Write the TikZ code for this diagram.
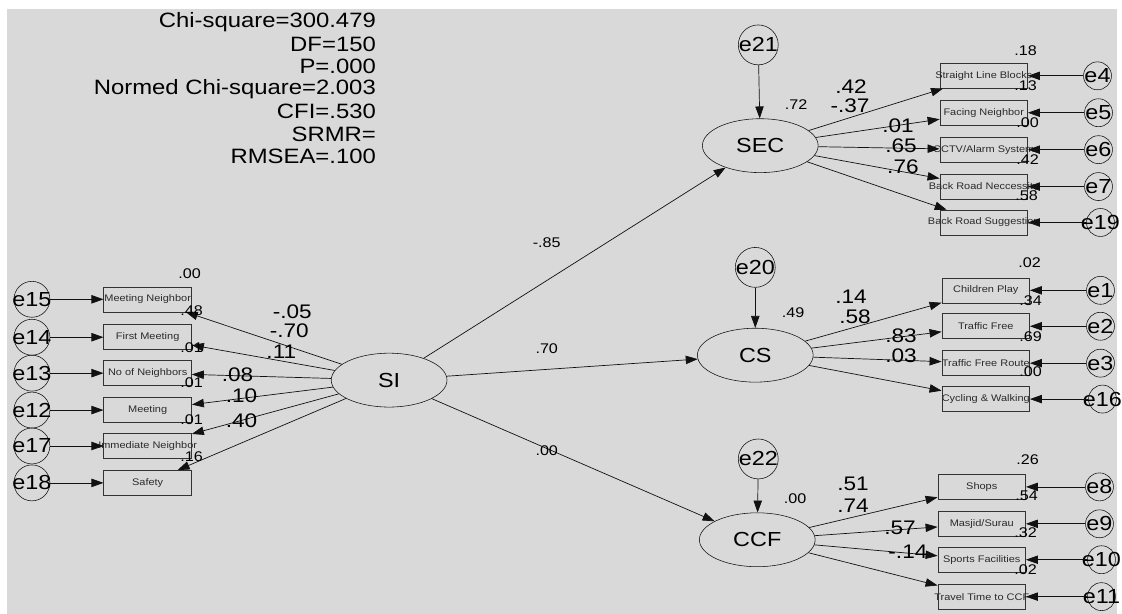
\documentclass[tikz,border=0pt]{standalone}
\usepackage{fontspec}
\setmainfont{Liberation Sans}
\usetikzlibrary{arrows.meta,shapes.geometric}
\definecolor{Canvas}{HTML}{D9D9D9}
\definecolor{Ink}{HTML}{111111}
\definecolor{BoxLine}{HTML}{333333}
\definecolor{BoxText}{HTML}{2B2B2B}
\newcommand{\wtxt}[1]{\scalebox{1.15}[1]{#1}}

\begin{document}
\begin{tikzpicture}[x=0.025cm,y=-0.025cm,
    >={Triangle[length=3mm,width=2.1mm]},
    latent/.style={ellipse,draw=Ink,minimum width=2.9cm,minimum height=1.35cm,
                   inner sep=0pt,font=\fontsize{14.5}{15}\selectfont},
    item/.style={rectangle,draw=BoxLine,minimum width=2.2cm,minimum height=0.625cm,
                 inner sep=0pt,text=BoxText,font=\fontsize{6.8}{7}\selectfont},
    err/.style={circle,draw=Ink,inner sep=0pt,minimum size=#1},
    err/.default=0.7cm,
    etxt/.style={font=\fontsize{14.5}{15}\selectfont,inner sep=0pt},
    wt/.style={font=\fontsize{14}{14}\selectfont,inner sep=0pt},
    rsq/.style={font=\fontsize{10}{11}\selectfont,inner sep=0pt},
    fit/.style={anchor=east,font=\fontsize{14.8}{15}\selectfont,inner sep=0pt},
    path/.style={draw=Ink,line width=0.5pt,->}]
  \fill[white] (0,0) rectangle (1122,615);
  \fill[Canvas] (7,9) rectangle (1120,615);

  \foreach \y/\t in {22/Chi-square=300.479,44.5/DF=150,67/P=.000,
      89.5/Normed Chi-square=2.003,112/CFI=.530,134.5/SRMR=,157/RMSEA=.100}{
    \node[fit] at (377,\y) {\wtxt{\t}};
  }

  \node[latent] (si) at (390,381) {\wtxt{SI}};
  \node[latent] (sec) at (762,146) {\wtxt{SEC}};
  \node[latent] (cs) at (757,356) {\wtxt{CS}};
  \node[latent] (ccf) at (759,541) {\wtxt{CCF}};

  \node[err=1cm,label={[etxt]center:\wtxt{e21}}] (e21) at (760,45) {};
  \node[err=1cm,label={[etxt]center:\wtxt{e20}}] (e20) at (757,268) {};
  \node[err=1cm,label={[etxt]center:\wtxt{e22}}] (e22) at (760,460) {};
  \draw[path] (e21) -- (sec);
  \draw[path] (e20) -- (cs);
  \draw[path] (e22) -- (ccf);

  \draw[path] (si) -- (sec);
  \draw[path] (si) -- (cs);
  \draw[path] (si) -- (ccf);
  \node[rsq] at (548,243) {\wtxt{-.85}};
  \node[rsq] at (548,349) {\wtxt{.70}};
  \node[rsq] at (548,452) {\wtxt{.00}};

  \foreach \n/\y/\t/\e in {mn/300/Meeting Neighbor/e15,fm/338/First Meeting/e14,
      nn/374/No of Neighbors/e13,mt/411/Meeting/e12,
      im/447/Immediate Neighbor/e17,sf/484/Safety/e18}{
    \node[item] (\n) at (148,\y) {\makebox[0pt]{\wtxt{\t}}};
    \node[err=0.9cm,label={[etxt]center:\wtxt{\e}}] (\e) at (32,\y) {};
    \draw[path] (\e) -- (\n);
    \draw[path] (si) -- (\n);
  }
  \foreach \x/\y/\t in {190/274/.00,192/311/.48,192/348/.01,192/384/.01,
      192/421/.01,192/458/.16}{
    \node[rsq] at (\x,\y) {\wtxt{\t}};
  }
  \foreach \x/\y/\t in {293/312/-.05,290/331/-.70,282/353/.11,
      238/376/.08,242/397/.10,242/422/.40}{
    \node[wt] at (\x,\y) {\wtxt{\t}};
  }

  \foreach \n/\y/\t/\e/\ex in {slb/76/Straight Line Blocks/e4/1100,
      fn/113/Facing Neighbor/e5/1101,cctv/150/{CCTV/Alarm System}/e6/1101,
      brn/187/Back Road Neccessity/e7/1101,brs/223/Back Road Suggestion/e19/1103}{
    \node[item] (\n) at (986,\y) {\makebox[0pt]{\wtxt{\t}}};
    \node[err,label={[etxt]center:\wtxt{\e}}] (\e) at (\ex,\y) {};
    \draw[path] (\e) -- (\n);
    \draw[path] (sec) -- (\n);
  }
  \node[rsq] at (798,105) {\wtxt{.72}};
  \foreach \x/\y/\t in {1028/51/.18,1028/86/.13,1030/123/.00,1030/160/.42,
      1029/196/.58}{
    \node[rsq] at (\x,\y) {\wtxt{\t}};
  }
  \foreach \x/\y/\t in {853/87/.42,852/106/-.37,900/126/.01,903/146/.65,
      905/167/.76}{
    \node[wt] at (\x,\y) {\wtxt{\t}};
  }

  \foreach \n/\y/\t/\e/\ex in {cp/291/Children Play/e1/1103,
      tf/327/Traffic Free/e2/1103,tfr/364/Traffic Free Route/e3/1103,
      cw/400/Cycling \& Walking/e16/1105}{
    \node[item] (\n) at (988,\y) {\makebox[0pt]{\wtxt{\t}}};
    \node[err,label={[etxt]center:\wtxt{\e}}] (\e) at (\ex,\y) {};
    \draw[path] (\e) -- (\n);
    \draw[path] (cs) -- (\n);
  }
  \node[rsq] at (795,313) {\wtxt{.49}};
  \foreach \x/\y/\t in {1032/263/.02,1033/301/.34,1033/337/.69,1033/373/.00}{
    \node[rsq] at (\x,\y) {\wtxt{\t}};
  }
  \foreach \x/\y/\t in {853/297/.14,857/317/.58,903/337/.83,903/357/.03}{
    \node[wt] at (\x,\y) {\wtxt{\t}};
  }

  \foreach \n/\y/\t/\e/\ex in {sh/488/Shops/e8/1102,ms/525/{Masjid/Surau}/e9/1102,
      spf/561/Sports Facilities/e10/1104,tt/598/Travel Time to CCF/e11/1104}{
    \node[item] (\n) at (984,\y) {\makebox[0pt]{\wtxt{\t}}};
    \node[err,label={[etxt]center:\wtxt{\e}}] (\e) at (\ex,\y) {};
    \draw[path] (\e) -- (\n);
    \draw[path] (ccf) -- (\n);
  }
  \node[rsq] at (797,500) {\wtxt{.00}};
  \foreach \x/\y/\t in {1030/461/.26,1029/497/.54,1028/534/.32,1028/571/.02}{
    \node[rsq] at (\x,\y) {\wtxt{\t}};
  }
  \foreach \x/\y/\t in {855/485/.51,855/507/.74,902/529/.57,910/553/-.14}{
    \node[wt] at (\x,\y) {\wtxt{\t}};
  }
\end{tikzpicture}
\end{document}
